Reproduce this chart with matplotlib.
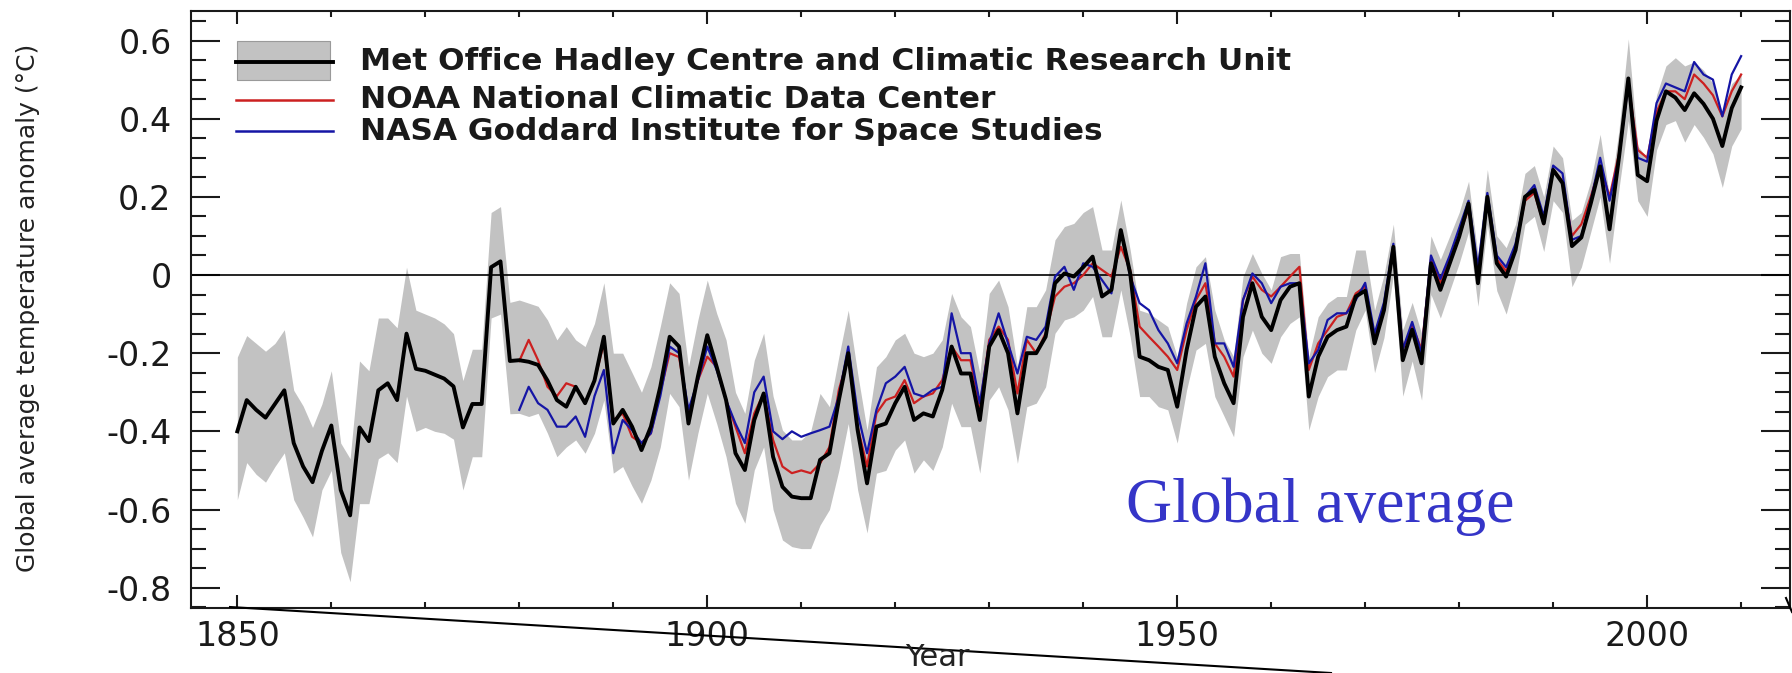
import matplotlib
matplotlib.use("Agg")
import matplotlib.pyplot as plt
from matplotlib.lines import Line2D
from matplotlib.patches import Rectangle
from matplotlib.ticker import MultipleLocator, FixedLocator
import numpy as np

# --- data ---
had_years = np.arange(1850, 2011)
had_mean = [
    -0.40, -0.32, -0.345, -0.365, -0.33, -0.295, -0.43, -0.49, -0.53, -0.45,
    -0.385, -0.55, -0.615, -0.39, -0.425, -0.295, -0.277, -0.32, -0.15, -0.24,
    -0.245, -0.255, -0.265, -0.285, -0.39, -0.33, -0.33, 0.02, 0.035, -0.22,
    -0.218, -0.222, -0.23, -0.27, -0.32, -0.337, -0.286, -0.328, -0.27, -0.158,
    -0.38, -0.345, -0.388, -0.448, -0.388, -0.286, -0.158, -0.183, -0.38, -0.26,
    -0.154, -0.235, -0.32, -0.456, -0.499, -0.371, -0.303, -0.465, -0.542, -0.567,
    -0.571, -0.571, -0.473, -0.456, -0.32, -0.20, -0.397, -0.533, -0.388, -0.38,
    -0.328, -0.286, -0.371, -0.354, -0.362, -0.294, -0.183, -0.252, -0.252, -0.371,
    -0.183, -0.141, -0.20, -0.354, -0.20, -0.20, -0.158, -0.021, 0.004, -0.004,
    0.02, 0.047, -0.055, -0.038, 0.115, 0.004, -0.209, -0.218, -0.235, -0.243,
    -0.337, -0.192, -0.081, -0.055, -0.209, -0.277, -0.328, -0.107, -0.021, -0.107,
    -0.141, -0.064, -0.03, -0.021, -0.311, -0.209, -0.158, -0.141, -0.132, -0.055,
    -0.04, -0.175, -0.09, 0.072, -0.218, -0.14, -0.226, 0.03, -0.038, 0.03,
    0.098, 0.183, -0.021, 0.20, 0.03, -0.004, 0.064, 0.20, 0.218, 0.132,
    0.269, 0.235, 0.074, 0.096, 0.183, 0.278, 0.117, 0.30, 0.503, 0.256,
    0.24, 0.395, 0.47, 0.454, 0.422, 0.465, 0.438, 0.40, 0.33, 0.427,
    0.48,
]
had_upper = [
    -0.21, -0.155, -0.175, -0.195, -0.175, -0.14, -0.295, -0.335, -0.39, -0.33,
    -0.245, -0.43, -0.47, -0.22, -0.245, -0.11, -0.11, -0.135, 0.02, -0.09,
    -0.10, -0.11, -0.125, -0.15, -0.27, -0.19, -0.19, 0.16, 0.175, -0.07,
    -0.064, -0.072, -0.08, -0.115, -0.166, -0.132, -0.166, -0.183, -0.124, -0.02,
    -0.20, -0.20, -0.25, -0.30, -0.235, -0.132, -0.02, -0.047, -0.235, -0.115,
    -0.013, -0.098, -0.166, -0.30, -0.354, -0.218, -0.149, -0.31, -0.397, -0.422,
    -0.422, -0.40, -0.303, -0.337, -0.209, -0.09, -0.252, -0.397, -0.235, -0.209,
    -0.166, -0.149, -0.20, -0.209, -0.20, -0.166, -0.047, -0.107, -0.132, -0.252,
    -0.047, -0.013, -0.081, -0.235, -0.081, -0.081, -0.038, 0.09, 0.124, 0.132,
    0.16, 0.175, 0.064, 0.064, 0.192, 0.064, -0.09, -0.098, -0.115, -0.132,
    -0.209, -0.072, 0.021, 0.047, -0.09, -0.166, -0.209, -0.004, 0.055, 0.004,
    -0.038, 0.047, 0.055, 0.055, -0.209, -0.107, -0.072, -0.055, -0.055, 0.064,
    0.064, -0.09, 0.0, 0.13, -0.14, -0.07, -0.15, 0.10, 0.04, 0.10,
    0.16, 0.24, 0.05, 0.27, 0.10, 0.07, 0.13, 0.26, 0.28, 0.20,
    0.33, 0.30, 0.14, 0.16, 0.24, 0.36, 0.20, 0.37, 0.604, 0.33,
    0.30, 0.46, 0.535, 0.556, 0.535, 0.545, 0.524, 0.49, 0.417, 0.49,
    0.513,
]
had_lower = [
    -0.575, -0.48, -0.51, -0.53, -0.49, -0.455, -0.575, -0.62, -0.67, -0.55,
    -0.50, -0.71, -0.785, -0.585, -0.585, -0.47, -0.455, -0.48, -0.31, -0.40,
    -0.39, -0.40, -0.405, -0.42, -0.55, -0.465, -0.465, -0.11, -0.10, -0.355,
    -0.354, -0.362, -0.354, -0.405, -0.465, -0.44, -0.422, -0.456, -0.405, -0.32,
    -0.507, -0.49, -0.54, -0.584, -0.525, -0.44, -0.303, -0.337, -0.525, -0.405,
    -0.303, -0.38, -0.465, -0.584, -0.635, -0.499, -0.44, -0.60, -0.678, -0.695,
    -0.70, -0.70, -0.64, -0.60, -0.50, -0.38, -0.55, -0.66, -0.507, -0.50,
    -0.448, -0.422, -0.507, -0.473, -0.50, -0.44, -0.328, -0.388, -0.388, -0.507,
    -0.32, -0.286, -0.345, -0.482, -0.337, -0.328, -0.286, -0.149, -0.115, -0.107,
    -0.09, -0.055, -0.158, -0.158, -0.038, -0.158, -0.311, -0.311, -0.337, -0.345,
    -0.43, -0.294, -0.192, -0.175, -0.311, -0.362, -0.414, -0.209, -0.141, -0.20,
    -0.226, -0.158, -0.124, -0.107, -0.397, -0.311, -0.26, -0.243, -0.243, -0.141,
    -0.09, -0.25, -0.16, 0.0, -0.31, -0.22, -0.32, -0.05, -0.11, -0.04,
    0.03, 0.11, -0.08, 0.13, -0.04, -0.10, -0.01, 0.13, 0.15, 0.06,
    0.19, 0.16, -0.03, 0.02, 0.11, 0.20, 0.03, 0.22, 0.395, 0.19,
    0.15, 0.32, 0.385, 0.395, 0.34, 0.385, 0.352, 0.31, 0.224, 0.33,
    0.374,
]

other_years = np.arange(1880, 2011)
noaa = [
    -0.22, -0.166, -0.218, -0.286, -0.31, -0.277, -0.286, -0.328, -0.27, -0.175,
    -0.371, -0.354, -0.414, -0.43, -0.405, -0.30, -0.20, -0.21, -0.354, -0.27,
    -0.209, -0.235, -0.32, -0.388, -0.456, -0.354, -0.303, -0.422, -0.49, -0.507,
    -0.50, -0.507, -0.482, -0.44, -0.294, -0.209, -0.388, -0.49, -0.354, -0.32,
    -0.311, -0.269, -0.328, -0.311, -0.303, -0.269, -0.183, -0.218, -0.218, -0.337,
    -0.166, -0.132, -0.166, -0.303, -0.166, -0.20, -0.149, -0.055, -0.03, -0.021,
    0.0, 0.03, 0.013, -0.004, 0.072, 0.013, -0.132, -0.158, -0.183, -0.209,
    -0.243, -0.141, -0.064, -0.021, -0.175, -0.209, -0.26, -0.064, -0.004, -0.038,
    -0.055, -0.03, -0.004, 0.021, -0.243, -0.175, -0.141, -0.107, -0.098, -0.047,
    -0.03, -0.16, -0.08, 0.07, -0.19, -0.13, -0.19, 0.04, -0.02, 0.04,
    0.10, 0.17, 0.01, 0.19, 0.04, 0.01, 0.07, 0.19, 0.21, 0.13,
    0.27, 0.24, 0.10, 0.13, 0.20, 0.28, 0.20, 0.31, 0.49, 0.32,
    0.30, 0.417, 0.47, 0.47, 0.45, 0.513, 0.49, 0.46, 0.406, 0.47,
    0.513,
]
nasa = [
    -0.345, -0.286, -0.328, -0.345, -0.388, -0.388, -0.362, -0.414, -0.31, -0.243,
    -0.456, -0.371, -0.397, -0.43, -0.405, -0.31, -0.183, -0.20, -0.345, -0.27,
    -0.183, -0.243, -0.32, -0.38, -0.43, -0.30, -0.26, -0.40, -0.42, -0.40,
    -0.414, -0.405, -0.397, -0.388, -0.311, -0.183, -0.354, -0.456, -0.345, -0.277,
    -0.26, -0.235, -0.303, -0.311, -0.294, -0.286, -0.098, -0.20, -0.20, -0.328,
    -0.175, -0.098, -0.175, -0.252, -0.158, -0.166, -0.132, -0.004, 0.021, -0.038,
    0.03, 0.021, -0.013, -0.047, 0.115, -0.004, -0.072, -0.09, -0.141, -0.175,
    -0.226, -0.124, -0.055, 0.03, -0.175, -0.175, -0.235, -0.064, 0.004, -0.021,
    -0.072, -0.03, -0.021, -0.021, -0.226, -0.192, -0.115, -0.098, -0.098, -0.064,
    -0.02, -0.15, -0.07, 0.08, -0.19, -0.12, -0.20, 0.05, -0.01, 0.05,
    0.12, 0.19, 0.02, 0.21, 0.05, 0.02, 0.08, 0.20, 0.23, 0.15,
    0.28, 0.26, 0.09, 0.10, 0.19, 0.30, 0.19, 0.30, 0.49, 0.30,
    0.29, 0.44, 0.49, 0.48, 0.47, 0.545, 0.513, 0.50, 0.406, 0.513,
    0.56,
]

legend_labels = [
    "Met Office Hadley Centre and Climatic Research Unit",
    "NOAA National Climatic Data Center",
    "NASA Goddard Institute for Space Studies",
]

W, H = 1792, 673
fx = lambda x: x / W
fy = lambda y: 1 - y / H

fig = plt.figure(figsize=(17.92, 6.73), dpi=100)
ax = fig.add_axes([fx(191), fy(608), fx(1790) - fx(191), fy(11) - fy(608)])

band_col = "#c2c2c2"
red = "#cc2020"
blue = "#1515a5"

ax.fill_between(had_years, had_lower, had_upper, color=band_col, lw=0)
ax.axhline(0, color="black", lw=1.2)
ax.plot(other_years, noaa, color=red, lw=1.6)
ax.plot(other_years, nasa, color=blue, lw=1.6)
ax.plot(had_years, had_mean, color="black", lw=2.8)

ax.set_xlim(1845.07, 2015.2)
ax.set_ylim(-0.852, 0.6755)

ax.xaxis.set_major_locator(FixedLocator([1850, 1900, 1950, 2000]))
ax.xaxis.set_minor_locator(MultipleLocator(10))
ax.yaxis.set_major_locator(FixedLocator([-0.8, -0.6, -0.4, -0.2, 0, 0.2, 0.4, 0.6]))
ax.yaxis.set_minor_locator(MultipleLocator(0.05))
ax.set_yticklabels(["-0.8", "-0.6", "-0.4", "-0.2", "0", "0.2", "0.4", "0.6"])

ax.tick_params(axis="both", which="both", direction="in", top=True, right=True,
               width=1.5, colors="#1a1a1a", labelsize=24)
ax.tick_params(axis="x", which="major", length=9.5, pad=9)
ax.tick_params(axis="x", which="minor", length=4.5)
ax.tick_params(axis="y", which="major", length=21, pad=14)
ax.tick_params(axis="y", which="minor", length=11)
for s in ax.spines.values():
    s.set_linewidth(1.5)
    s.set_color("#1a1a1a")

# y label and the x label squeezed under the ticks
fig.text(fx(28), fy(308), "Global average temperature anomaly (°C)", rotation=90,
         ha="center", va="center", fontsize=18, color="#222222")
fig.text(fx(937), fy(666), "Year", ha="center", va="baseline", fontsize=22, color="#222222")

# hand-drawn legend
fig.add_artist(Rectangle((fx(237), fy(80)), fx(330) - fx(237), fy(41) - fy(80),
                         transform=fig.transFigure, facecolor=band_col,
                         edgecolor="#9a9a9a", lw=0.8))
legend_cols = ["black", red, blue]
legend_y = [62, 100, 131]
legend_w = [2.8, 1.8, 1.8]
for lab, col, y, lw in zip(legend_labels, legend_cols, legend_y, legend_w):
    fig.add_artist(Line2D([fx(236), fx(333)], [fy(y), fy(y)], color=col, lw=lw,
                          transform=fig.transFigure))
    fig.text(fx(360), fy(y), lab, ha="left", va="center", fontsize=22.5,
             fontweight="bold", color="#1a1a1a")

# slide annotation
fig.text(fx(1126), fy(522), "Global average", ha="left", va="baseline",
         fontsize=46, color="#3535c8", family="Liberation Serif")
fig.add_artist(Line2D([fx(230), fx(1331)], [fy(607), fy(673)], color="black",
                      lw=1.5, transform=fig.transFigure))
fig.add_artist(Line2D([fx(1786), fx(1792)], [fy(598), fy(612)], color="black",
                      lw=1.5, transform=fig.transFigure))

fig.savefig("out.png", dpi=100)
